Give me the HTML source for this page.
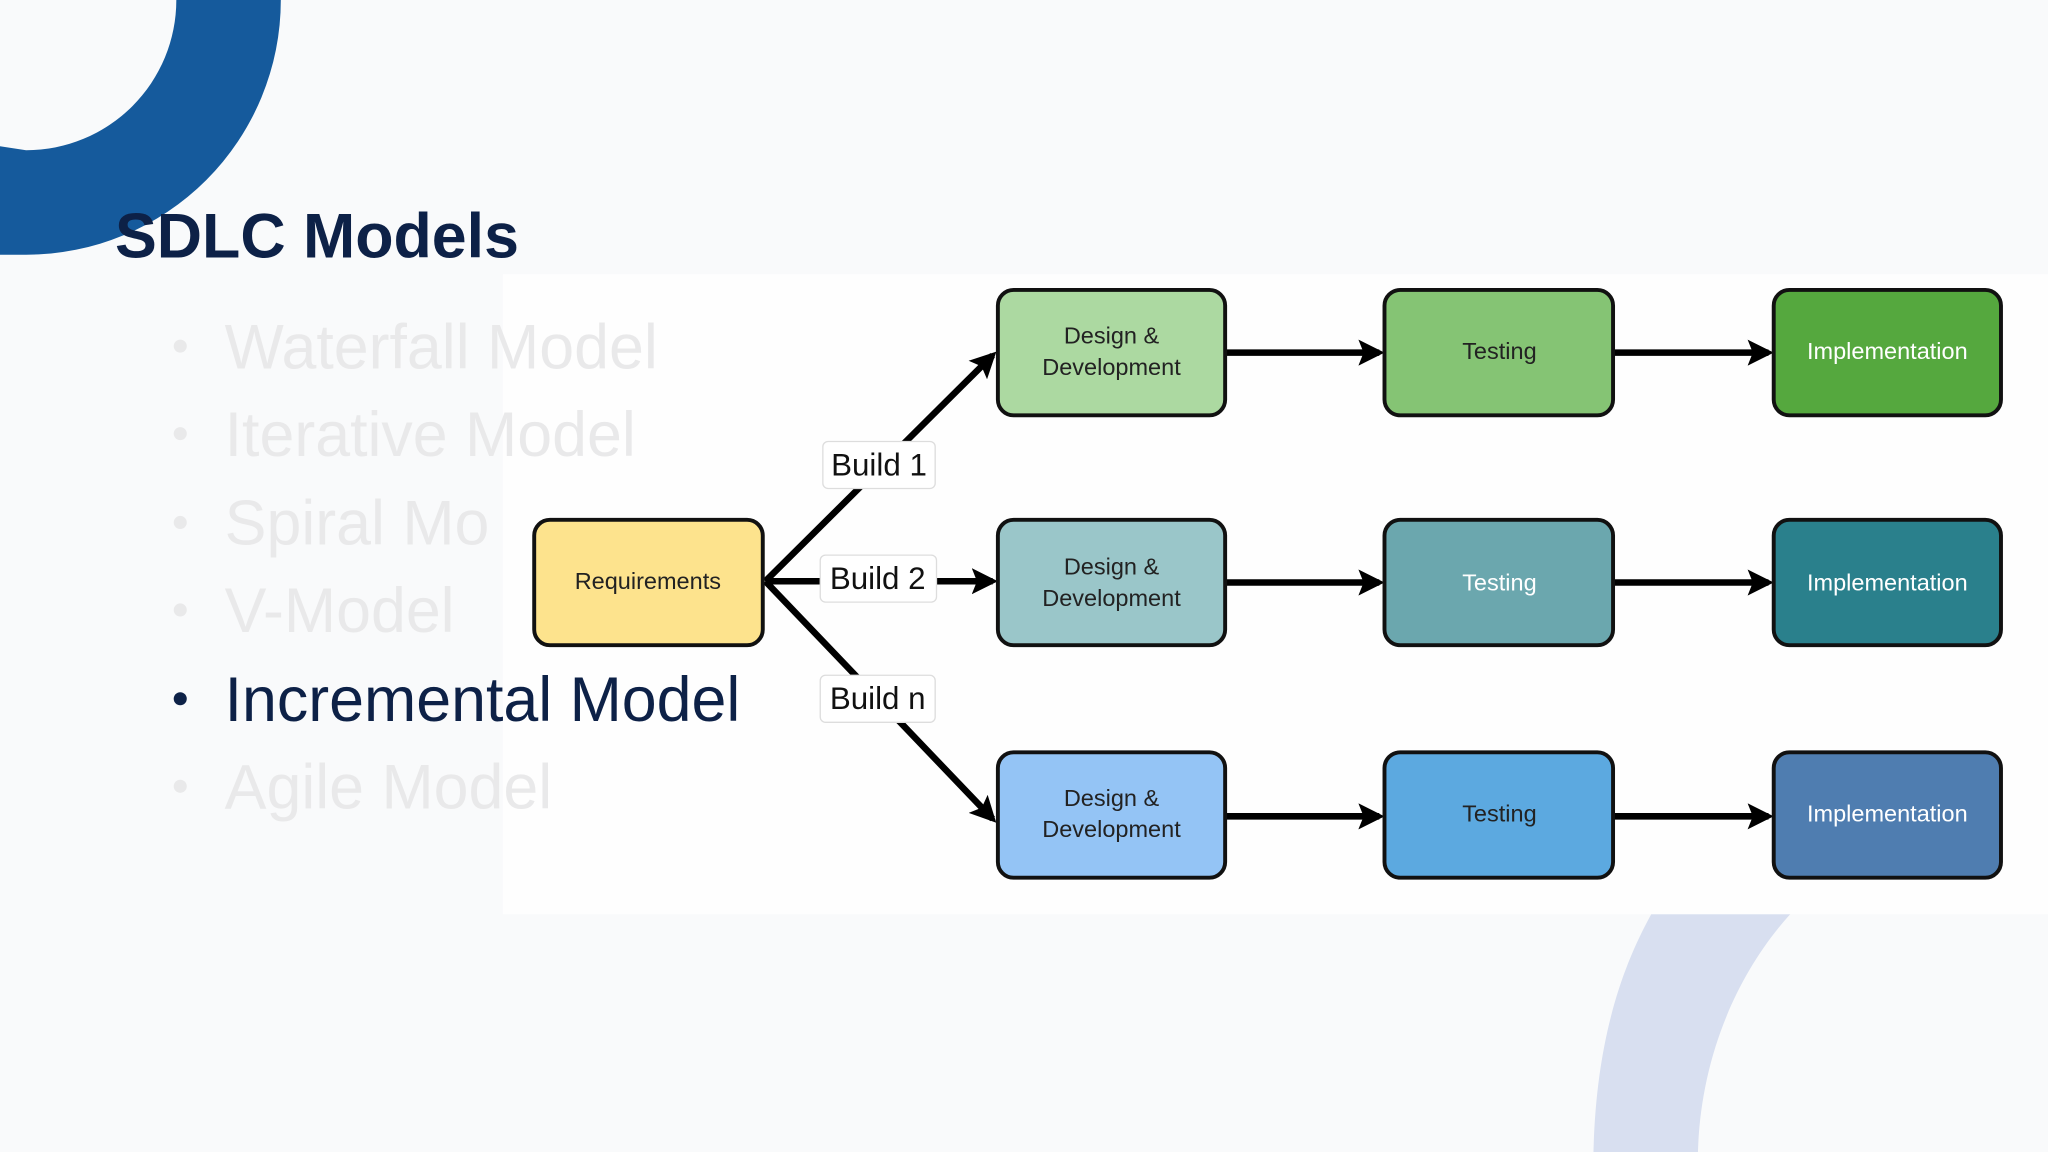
<!DOCTYPE html>
<html><head><meta charset="utf-8"><style>
html,body{margin:0;padding:0;background:#f9fafb;}
svg{display:block;}
</style></head><body>
<svg width="2048" height="1152" viewBox="0 0 1568 882" xmlns="http://www.w3.org/2000/svg" font-family="Liberation Sans, sans-serif">
<defs>
<marker id="ah" markerWidth="4" markerHeight="4" refX="3.2" refY="2" orient="auto" markerUnits="strokeWidth">
<path d="M0,0 L4,2 L0,4 L0.8,2 Z" fill="#000"/>
</marker>
</defs>
<rect width="1568" height="882" fill="#f9fafb"/>
<!-- top-left ring -->
<path d="M 215 0 A 195 195 0 0 1 20 195 L 0 195 L 0 112 L 20 115 A 115 115 0 0 0 135 0 Z" fill="#155a9c"/>
<!-- bottom-right light arc -->
<path d="M 1220 882 C 1222 800 1240 740 1270 690 L 1380 690 C 1330 740 1302 810 1300 882 Z" fill="#d8dff0"/>
<!-- diagram panel -->
<rect x="385" y="210" width="1183" height="490" fill="#fefefe"/>
<!-- title -->
<text x="88" y="197" font-size="48" font-weight="bold" fill="#0d2147">SDLC Models</text>
<!-- bullets -->
<g font-size="48" fill="#e9e9ea">
<circle cx="138" cy="265" r="5"/><text x="172" y="282">Waterfall Model</text>
<circle cx="138" cy="332" r="5"/><text x="172" y="349">Iterative Model</text>
<circle cx="138" cy="400" r="5"/><text x="172" y="417">Spiral Mo</text>
<circle cx="138" cy="467" r="5"/><text x="172" y="484">V-Model</text>
<circle cx="138" cy="602" r="5"/><text x="172" y="619">Agile Model</text>
</g>
<circle cx="138" cy="535" r="5" fill="#0d2147"/>
<text x="172" y="552" font-size="48" fill="#0d2147">Incremental Model</text>
<!-- connectors -->
<g stroke="#000" stroke-width="5" fill="none">
<line x1="586" y1="445" x2="760" y2="272" marker-end="url(#ah)"/>
<line x1="586" y1="445" x2="760" y2="445" marker-end="url(#ah)"/>
<line x1="586" y1="445" x2="760" y2="627" marker-end="url(#ah)"/>
<line x1="938" y1="270" x2="1056" y2="270" marker-end="url(#ah)"/>
<line x1="1235" y1="270" x2="1354" y2="270" marker-end="url(#ah)"/>
<line x1="938" y1="446" x2="1056" y2="446" marker-end="url(#ah)"/>
<line x1="1235" y1="446" x2="1354" y2="446" marker-end="url(#ah)"/>
<line x1="938" y1="625" x2="1056" y2="625" marker-end="url(#ah)"/>
<line x1="1235" y1="625" x2="1354" y2="625" marker-end="url(#ah)"/>
</g>
<!-- build labels -->
<g font-size="24" fill="#111">
<rect x="630" y="338" width="86" height="36" rx="4" fill="#fff" stroke="#ddd"/>
<text x="673" y="364" text-anchor="middle">Build 1</text>
<rect x="628" y="425" width="89" height="36" rx="4" fill="#fff" stroke="#ddd"/>
<text x="672" y="451" text-anchor="middle">Build 2</text>
<rect x="628" y="517" width="88" height="36" rx="4" fill="#fff" stroke="#ddd"/>
<text x="672" y="543" text-anchor="middle">Build n</text>
</g>
<!-- boxes -->
<g stroke="#111" stroke-width="3">
<rect x="409" y="398" width="175" height="96" rx="12" fill="#fde38d"/>
<rect x="764" y="222" width="174" height="96" rx="12" fill="#acd9a1"/>
<rect x="1060" y="222" width="175" height="96" rx="12" fill="#85c474"/>
<rect x="1358" y="222" width="174" height="96" rx="12" fill="#55a83e"/>
<rect x="764" y="398" width="174" height="96" rx="12" fill="#9ac6c9"/>
<rect x="1060" y="398" width="175" height="96" rx="12" fill="#6ba7ae"/>
<rect x="1358" y="398" width="174" height="96" rx="12" fill="#2a808c"/>
<rect x="764" y="576" width="174" height="96" rx="12" fill="#94c4f5"/>
<rect x="1060" y="576" width="175" height="96" rx="12" fill="#5ca9e0"/>
<rect x="1358" y="576" width="174" height="96" rx="12" fill="#4f7db0"/>
</g>
<g font-size="18" text-anchor="middle" fill="#222">
<text x="496" y="451">Requirements</text>
<text x="851" y="263">Design &amp;</text><text x="851" y="287">Development</text>
<text x="851" y="440">Design &amp;</text><text x="851" y="464">Development</text>
<text x="851" y="617">Design &amp;</text><text x="851" y="641">Development</text>
<text x="1148" y="275">Testing</text>
<text x="1148" y="452" fill="#fff">Testing</text>
<text x="1148" y="629">Testing</text>
<text x="1445" y="275" fill="#fff">Implementation</text>
<text x="1445" y="452" fill="#fff">Implementation</text>
<text x="1445" y="629" fill="#fff">Implementation</text>
</g>
</svg>
</body></html>
